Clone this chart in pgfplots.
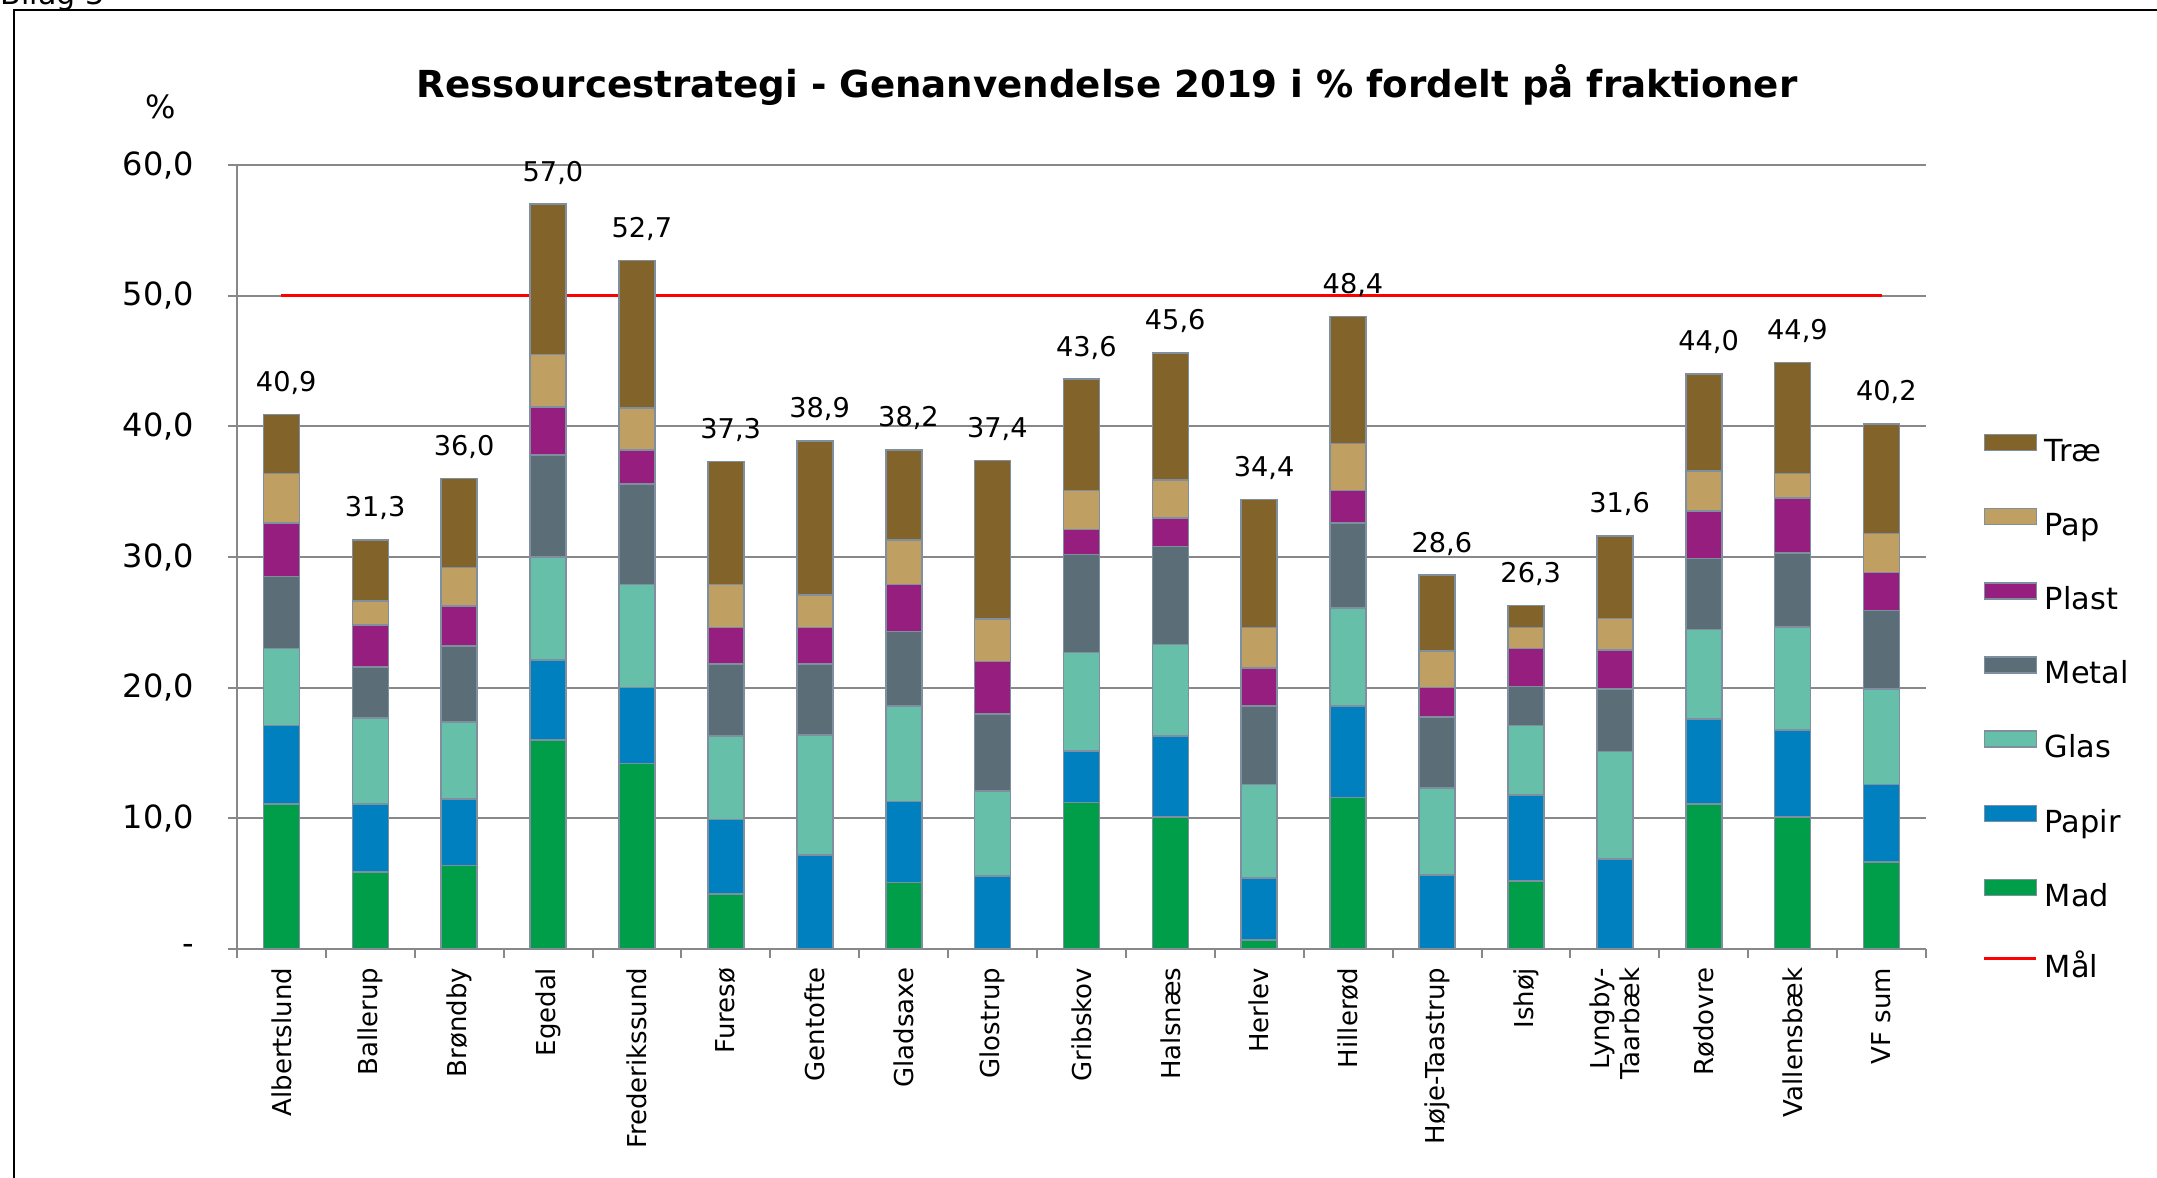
\documentclass[border=0pt]{standalone}
\usepackage{fontspec}
\setmainfont{DejaVu Sans}
\usepackage{pgfplots}
\usepackage{pgfplotstable}
\pgfplotsset{compat=1.18}

\definecolor{mad}{HTML}{009E49}
\definecolor{papir}{HTML}{0080BF}
\definecolor{glas}{HTML}{66BFA9}
\definecolor{metal}{HTML}{5B6D76}
\definecolor{plast}{HTML}{951E7E}
\definecolor{pap}{HTML}{BF9F62}
\definecolor{trae}{HTML}{826329}
\definecolor{edge}{HTML}{7F8FA0}
\definecolor{gridc}{HTML}{888888}

% recycling per fraction, %; total = label on top
\pgfplotstableread{
x  mad   papir glas  metal plast pap   trae  total
0  11.1  6.0   5.9   5.5   4.1   3.8   4.5   40.9
1  5.9   5.2   6.6   3.9   3.2   1.85  4.65  31.3
2  6.4   5.1   5.85  5.85  3.05  2.95  6.8   36.0
3  16.0  6.1   7.9   7.8   3.7   4.0   11.5  57.0
4  14.2  5.8   7.9   7.7   2.6   3.2   11.3  52.7
5  4.2   5.7   6.4   5.5   2.8   3.3   9.4   37.3
6  0     7.2   9.2   5.4   2.8   2.5   11.8  38.9
7  5.1   6.2   7.3   5.7   3.6   3.4   6.9   38.2
8  0     5.6   6.5   5.9   4.0   3.25  12.15 37.4
9  11.2  3.95  7.55  7.5   1.9   3.0   8.5   43.6
10 10.1  6.2   7.0   7.5   2.2   2.9   9.7   45.6
11 0.7   4.75  7.15  6.0   2.9   3.1   9.8   34.4
12 11.6  7.0   7.5   6.5   2.5   3.6   9.7   48.4
13 0     5.65  6.65  5.45  2.25  2.8   5.8   28.6
14 5.2   6.6   5.3   3.0   2.9   1.6   1.7   26.3
15 0     6.9   8.2   4.8   3.0   2.4   6.3   31.6
16 11.1  6.5   6.85  5.45  3.6   3.1   7.4   44.0
17 10.1  6.65  7.9   5.65  4.2   1.9   8.5   44.9
18 6.65  5.95  7.3   6.0   2.9   3.0   8.4   40.2
}\fractions

\begin{document}
\begin{tikzpicture}
\node[anchor=base west, font=\fontsize{7.5}{9}\selectfont, inner sep=0pt] at (0pt,293.3pt) {Bilag 3};
\draw[line width=0.7pt] (3.5pt,-3pt) -- (3.5pt,292pt) -- (545pt,292pt);
\node[font=\bfseries\fontsize{9.3}{11}\selectfont] at (276.75pt,273.25pt)
  {Ressourcestrategi - Genanvendelse 2019 i \% fordelt på fraktioner};
\node[font=\fontsize{8}{10}\selectfont] at (40.25pt,267.75pt) {\%};

\begin{axis}[
  at={(59.25pt,57.25pt)}, anchor=south west,
  scale only axis, width=422.25pt, height=196pt,
  ybar stacked, bar width=9pt,
  xmin=-0.5, xmax=18.5, ymin=0, ymax=60,
  axis x line*=bottom, axis y line*=left,
  axis line style={draw=gridc, line width=0.5pt, -},
  ymajorgrids, grid style={draw=gridc, line width=0.5pt},
  tick align=outside,
  major tick length=2.3pt, minor tick length=2.3pt,
  tick style={draw=gridc, line width=0.5pt},
  major x tick style={draw=none},
  ytick={0,10,...,60},
  yticklabels={-,{10,0},{20,0},{30,0},{40,0},{50,0},{60,0}},
  yticklabel style={font=\fontsize{8}{10}\selectfont, inner sep=0pt},
  yticklabel shift=8.2pt,
  xtick={0,...,18},
  minor xtick={-0.5,0.5,...,18.5},
  xticklabels={Albertslund,Ballerup,Brøndby,Egedal,Frederikssund,Furesø,
    Gentofte,Gladsaxe,Glostrup,Gribskov,Halsnæs,Herlev,Hillerød,Høje-Taastrup,
    Ishøj,{Lyngby-\\Taarbæk},Rødovre,Vallensbæk,VF sum},
  xticklabel style={rotate=90, anchor=east, align=right, inner sep=0pt,
    font=\fontsize{6.5}{7.6}\selectfont},
  xticklabel shift=2.2pt,
  legend style={at={(1.033,0.6585)}, anchor=north west, draw=none, fill=none,
    inner sep=0pt, font=\fontsize{7.6}{9}\selectfont, row sep=9.35pt,
    column sep=1.2pt, nodes={inner sep=0.5pt, text height=5.6pt, text depth=1.8pt}},
  legend cell align=left,
]
\addlegendimage{legend image code/.code={\draw[fill=trae,draw=edge,line width=0.4pt] (0pt,0.8pt) rectangle (13pt,4.8pt);}}
\addlegendentry{Træ}
\addlegendimage{legend image code/.code={\draw[fill=pap,draw=edge,line width=0.4pt] (0pt,0.8pt) rectangle (13pt,4.8pt);}}
\addlegendentry{Pap}
\addlegendimage{legend image code/.code={\draw[fill=plast,draw=edge,line width=0.4pt] (0pt,0.8pt) rectangle (13pt,4.8pt);}}
\addlegendentry{Plast}
\addlegendimage{legend image code/.code={\draw[fill=metal,draw=edge,line width=0.4pt] (0pt,0.8pt) rectangle (13pt,4.8pt);}}
\addlegendentry{Metal}
\addlegendimage{legend image code/.code={\draw[fill=glas,draw=edge,line width=0.4pt] (0pt,0.8pt) rectangle (13pt,4.8pt);}}
\addlegendentry{Glas}
\addlegendimage{legend image code/.code={\draw[fill=papir,draw=edge,line width=0.4pt] (0pt,0.8pt) rectangle (13pt,4.8pt);}}
\addlegendentry{Papir}
\addlegendimage{legend image code/.code={\draw[fill=mad,draw=edge,line width=0.4pt] (0pt,0.8pt) rectangle (13pt,4.8pt);}}
\addlegendentry{Mad}
\addlegendimage{legend image code/.code={\draw[red,line width=0.9pt] (0pt,2.8pt) -- (13pt,2.8pt);}}
\addlegendentry{Mål}

\addplot[fill=mad,   draw=edge, line width=0.4pt] table[x=x,y=mad]{\fractions};
\addplot[fill=papir, draw=edge, line width=0.4pt] table[x=x,y=papir]{\fractions};
\addplot[fill=glas,  draw=edge, line width=0.4pt] table[x=x,y=glas]{\fractions};
\addplot[fill=metal, draw=edge, line width=0.4pt] table[x=x,y=metal]{\fractions};
\addplot[fill=plast, draw=edge, line width=0.4pt] table[x=x,y=plast]{\fractions};
\addplot[fill=pap,   draw=edge, line width=0.4pt] table[x=x,y=pap]{\fractions};
% the node sits mid-segment, so lift it by half the segment height (196pt/60 per unit)
\addplot[fill=trae,  draw=edge, line width=0.4pt,
  point meta=explicit,
  visualization depends on={\thisrow{trae} \as \traeval},
  nodes near coords={\pgfmathprintnumber[fixed,fixed zerofill,precision=1,use comma,assume math mode=true]{\pgfplotspointmeta}},
  nodes near coords style={font=\fontsize{6.8}{7.5}\selectfont, anchor=base,
    yshift={\traeval*1.63333pt+5.8pt}, xshift=1.2pt, text=black}]
  table[x=x,y=trae,meta=total]{\fractions};
% goal line
\addplot[stack plots=false, sharp plot, draw=red, line width=0.9pt, mark=none]
  coordinates {(0,50) (18,50)};
\end{axis}
\pgfresetboundingbox
\useasboundingbox (0,0) rectangle (539.25pt,294.5pt);
\end{tikzpicture}
\end{document}
